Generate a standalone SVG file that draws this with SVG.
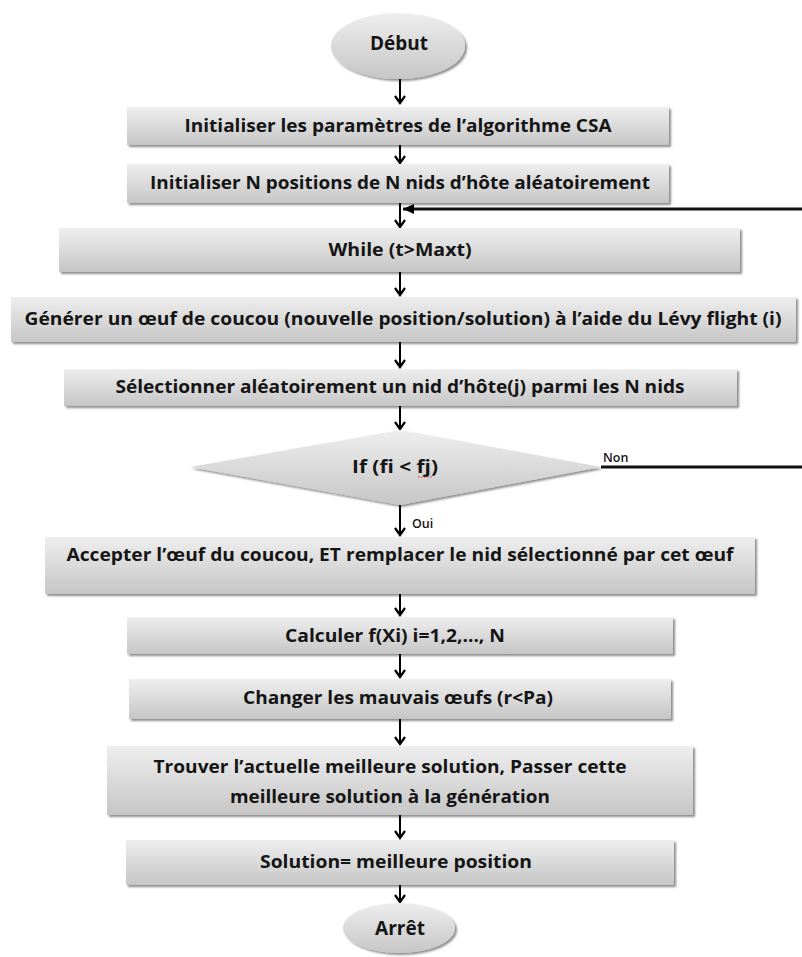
<svg xmlns="http://www.w3.org/2000/svg" width="802" height="957" viewBox="0 0 802 957">
<style>
.t{font-family:"Open Sans","Liberation Sans",sans-serif;font-weight:bold;font-size:17px;fill:#151515;font-variant-ligatures:none}
.big{font-size:19px}
.s{font-family:"Open Sans","Liberation Sans",sans-serif;font-weight:600;font-size:12.5px;fill:#151515}
.box{fill:url(#g);filter:url(#sh)}
.c{stroke:#000;stroke-width:2;fill:none}
.cl{stroke:#111;stroke-width:3;fill:none}
</style>
<defs>
<linearGradient id="g" x1="0" y1="0" x2="0" y2="1">
<stop offset="0" stop-color="#eeeeee"/>
<stop offset="1" stop-color="#c6c6c6"/>
</linearGradient>
<filter id="sh" x="-5%" y="-20%" width="110%" height="150%">
<feGaussianBlur in="SourceAlpha" stdDeviation="1.2"/>
<feOffset dx="2" dy="2" result="b"/>
<feComponentTransfer><feFuncA type="linear" slope="0.45"/></feComponentTransfer>
<feMerge><feMergeNode/><feMergeNode in="SourceGraphic"/></feMerge>
</filter>
<marker id="ah" viewBox="0 0 12 12" refX="10" refY="6" markerWidth="12" markerHeight="12" markerUnits="userSpaceOnUse" orient="auto">
<path d="M3,1 L10,6 L3,11" fill="none" stroke="#000" stroke-width="2.2"/>
</marker>
<marker id="al" viewBox="0 0 12 12" refX="11" refY="6" markerWidth="12" markerHeight="12" markerUnits="userSpaceOnUse" orient="auto">
<path d="M0,1 L11,6 L0,11 Z" fill="#000"/>
</marker>
</defs>

<g id="connectors">
<line class="c" x1="400" y1="79" x2="400" y2="103" marker-end="url(#ah)"/>
<line class="c" x1="400" y1="145" x2="400" y2="163" marker-end="url(#ah)"/>
<line class="c" x1="400" y1="203" x2="400" y2="227" marker-end="url(#ah)"/>
<line class="cl" x1="802" y1="209" x2="403" y2="209" marker-end="url(#al)"/>
<line class="c" x1="400" y1="272" x2="400" y2="295" marker-end="url(#ah)"/>
<line class="c" x1="400" y1="342" x2="400" y2="367" marker-end="url(#ah)"/>
<line class="c" x1="400" y1="406" x2="400" y2="429" marker-end="url(#ah)"/>
<line class="cl" x1="601" y1="467" x2="802" y2="467"/>
<text class="s" x="603" y="462">Non</text>
<line class="c" x1="400" y1="505" x2="400" y2="535" marker-end="url(#ah)"/>
<text class="s" x="412" y="528">Oui</text>
<line class="c" x1="400" y1="594" x2="400" y2="615" marker-end="url(#ah)"/>
<line class="c" x1="400" y1="654" x2="400" y2="677" marker-end="url(#ah)"/>
<line class="c" x1="400" y1="719" x2="400" y2="744" marker-end="url(#ah)"/>
<line class="c" x1="400" y1="815" x2="400" y2="838" marker-end="url(#ah)"/>
<line class="c" x1="400" y1="885" x2="400" y2="902" marker-end="url(#ah)"/>
</g>

<g id="debut">
<ellipse class="box" cx="398" cy="46" rx="67" ry="33"/>
<text class="t big" x="399" y="50" text-anchor="middle" textLength="58" lengthAdjust="spacingAndGlyphs">Début</text>
</g>
<g id="init-params">
<rect class="box" x="127" y="107" width="542" height="38"/>
<text class="t" x="398" y="132" text-anchor="middle" textLength="427" lengthAdjust="spacingAndGlyphs">Initialiser les paramètres de l’algorithme CSA</text>
</g>
<g id="init-positions">
<rect class="box" x="127" y="164" width="542" height="39"/>
<text class="t" x="400" y="189" text-anchor="middle" textLength="500" lengthAdjust="spacingAndGlyphs">Initialiser N positions de N nids d’hôte aléatoirement</text>
</g>
<g id="while">
<rect class="box" x="59" y="228" width="681" height="44"/>
<text class="t" x="400" y="256" text-anchor="middle" textLength="143" lengthAdjust="spacingAndGlyphs">While (t&gt;Maxt)</text>
</g>
<g id="generer">
<rect class="box" x="11" y="297" width="785" height="45"/>
<text class="t" x="403" y="325" text-anchor="middle" textLength="757" lengthAdjust="spacingAndGlyphs">Générer un œuf de coucou (nouvelle position/solution) à l’aide du Lévy flight (i)</text>
</g>
<g id="selectionner">
<rect class="box" x="64" y="369" width="673" height="37"/>
<text class="t" x="400" y="393" text-anchor="middle" textLength="569" lengthAdjust="spacingAndGlyphs">Sélectionner aléatoirement un nid d’hôte(j) parmi les N nids</text>
</g>
<g id="if">
<polygon class="box" points="400,430 601,467 400,505 190,467"/>
<text class="t" x="395" y="473" text-anchor="middle" textLength="86" lengthAdjust="spacingAndGlyphs">If (fi &lt; fj)</text>
<line x1="418" y1="477" x2="432" y2="477" stroke="#d03030" stroke-width="1.2" stroke-dasharray="1.5 1.5"/>
</g>
<g id="accepter">
<rect class="box" x="45" y="537" width="710" height="57"/>
<text class="t" x="400" y="561" text-anchor="middle" textLength="667" lengthAdjust="spacingAndGlyphs">Accepter l’œuf du coucou, ET remplacer le nid sélectionné par cet œuf</text>
</g>
<g id="calculer">
<rect class="box" x="127" y="617" width="546" height="37"/>
<text class="t" x="395" y="642" text-anchor="middle" textLength="220" lengthAdjust="spacingAndGlyphs">Calculer f(Xi) i=1,2,…, N</text>
</g>
<g id="changer">
<rect class="box" x="129" y="679" width="542" height="40"/>
<text class="t" x="398" y="704" text-anchor="middle" textLength="310" lengthAdjust="spacingAndGlyphs">Changer les mauvais œufs (r&lt;Pa)</text>
</g>
<g id="trouver">
<rect class="box" x="107" y="746" width="586" height="69"/>
<text class="t" x="390" y="773" text-anchor="middle" textLength="473" lengthAdjust="spacingAndGlyphs">Trouver l’actuelle meilleure solution, Passer cette</text>
<text class="t" x="390" y="803" text-anchor="middle" textLength="320" lengthAdjust="spacingAndGlyphs">meilleure solution à la génération</text>
</g>
<g id="solution">
<rect class="box" x="126" y="840" width="548" height="45"/>
<text class="t" x="396" y="868" text-anchor="middle" textLength="272" lengthAdjust="spacingAndGlyphs">Solution= meilleure position</text>
</g>
<g id="arret">
<ellipse class="box" cx="399" cy="928" rx="56" ry="25"/>
<text class="t big" x="400" y="935" text-anchor="middle" textLength="50" lengthAdjust="spacingAndGlyphs">Arrêt</text>
</g>
</svg>
